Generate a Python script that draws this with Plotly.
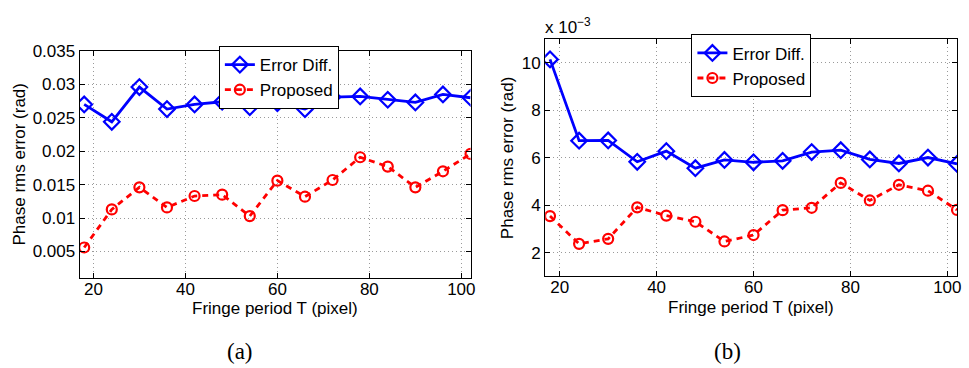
import plotly.graph_objects as go

W, H = 969, 368

period = [18, 24, 30, 36, 42, 48, 54, 60, 66, 72, 78, 84, 90, 96, 102]

# (a) values in rad
a_error_diff = [0.0270, 0.0244, 0.0296, 0.0263, 0.0270, 0.0274, 0.0266, 0.0272,
                0.0263, 0.0281, 0.0282, 0.0277, 0.0273, 0.0285, 0.0280]
a_proposed = [0.0056, 0.0113, 0.0146, 0.0116, 0.0133, 0.0135, 0.0103, 0.0156,
              0.0132, 0.0157, 0.0191, 0.0177, 0.0146, 0.0170, 0.0196]

# (b) values in units of 1e-3 rad
b_error_diff = [10.15, 6.72, 6.73, 5.83, 6.28, 5.56, 5.91, 5.81, 5.87, 6.24,
                6.32, 5.93, 5.76, 6.01, 5.74]
b_proposed = [3.54, 2.37, 2.58, 3.91, 3.56, 3.30, 2.47, 2.74, 3.79, 3.89,
              4.94, 4.20, 4.86, 4.61, 3.80]

x_ticks = [20, 40, 60, 80, 100]
a_y_ticks = [0.005, 0.01, 0.015, 0.02, 0.025, 0.03, 0.035]
a_y_ticklabels = ["0.005", "0.01", "0.015", "0.02", "0.025", "0.03", "0.035"]
b_y_ticks = [2, 4, 6, 8, 10]

FONT = "Liberation Sans"
SERIF = "Liberation Serif"
FS = 17
BLUE = "#0000ff"
RED = "#ff0000"

fig = go.Figure()

def add_pair(xa, ya, ed, pr, leg):
    fig.add_trace(go.Scatter(
        x=period, y=ed, name="Error Diff.", mode="lines+markers",
        line=dict(color=BLUE, width=2.8),
        marker=dict(symbol="diamond-open", size=12, color=BLUE, line=dict(width=2.2, color=BLUE)),
        xaxis=xa, yaxis=ya, legend=leg))
    fig.add_trace(go.Scatter(
        x=period, y=pr, name="Proposed", mode="lines+markers",
        line=dict(color=RED, width=2.8, dash="6px,5px"),
        marker=dict(symbol="circle-open", size=10, color=RED, line=dict(width=2.2, color=RED)),
        xaxis=xa, yaxis=ya, legend=leg))

add_pair("x", "y", a_error_diff, a_proposed, "legend")
add_pair("x2", "y2", b_error_diff, b_proposed, "legend2")

axis_common = dict(
    showline=True, linecolor="black", linewidth=1, mirror="ticks",
    ticks="inside", ticklen=5, tickwidth=1, tickcolor="black",
    showgrid=True, gridcolor="#9a9a9a", griddash="1px,3px", gridwidth=1,
    zeroline=False, tickfont=dict(family=FONT, size=FS, color="black"),
)

fig.update_layout(
    width=W, height=H,
    margin=dict(l=0, r=0, t=0, b=0),
    paper_bgcolor="white", plot_bgcolor="white",
    font=dict(family=FONT, size=FS, color="black"),
    xaxis=dict(domain=[80 / W, 473 / W], range=[17, 102], tickvals=x_ticks,
               anchor="y", ticklabelstandoff=-5, **axis_common),
    yaxis=dict(domain=[1 - 276 / H, 1 - 43 / H], range=[0.001, 0.035],
               tickvals=a_y_ticks, ticktext=a_y_ticklabels, anchor="x", **axis_common),
    xaxis2=dict(domain=[548 / W, 962 / W], range=[17, 102], tickvals=x_ticks,
                anchor="y2", ticklabelstandoff=-5, **axis_common),
    yaxis2=dict(domain=[1 - 274 / H, 1 - 31 / H], range=[1, 11],
                tickvals=b_y_ticks, anchor="x2", **axis_common),
    legend=dict(x=220 / W, y=1 - 38 / H, xanchor="left", yanchor="top",
                bgcolor="white", bordercolor="black", borderwidth=1,
                font=dict(family=FONT, size=FS), itemwidth=30,
                tracegroupgap=0),
    legend2=dict(x=695 / W, y=1 - 26 / H, xanchor="left", yanchor="top",
                 bgcolor="white", bordercolor="black", borderwidth=1,
                 font=dict(family=FONT, size=FS), itemwidth=30,
                 tracegroupgap=0),
    showlegend=True,
)

annotations = [
    dict(text="Fringe period T (pixel)", x=276.5 / W, y=1 - 307 / H, xref="paper", yref="paper",
         showarrow=False, font=dict(family=FONT, size=FS), xanchor="center", yanchor="middle"),
    dict(text="Fringe period T (pixel)", x=755 / W, y=1 - 306 / H, xref="paper", yref="paper",
         showarrow=False, font=dict(family=FONT, size=FS), xanchor="center", yanchor="middle"),
    dict(text="Phase rms error (rad)", x=20 / W, y=1 - 159.5 / H, xref="paper", yref="paper",
         showarrow=False, textangle=-90, font=dict(family=FONT, size=FS),
         xanchor="center", yanchor="middle"),
    dict(text="Phase rms error (rad)", x=510 / W, y=1 - 152.5 / H, xref="paper", yref="paper",
         showarrow=False, textangle=-90, font=dict(family=FONT, size=FS),
         xanchor="center", yanchor="middle"),
    dict(text="x 10<sup>−3</sup>", x=546 / W, y=1 - 17 / H, xref="paper", yref="paper",
         showarrow=False, font=dict(family=FONT, size=FS), xanchor="left", yanchor="middle"),
    dict(text="(a)", x=241 / W, y=1 - 351 / H, xref="paper", yref="paper",
         showarrow=False, font=dict(family=SERIF, size=23),
         xanchor="center", yanchor="middle"),
    dict(text="(b)", x=731 / W, y=1 - 351 / H, xref="paper", yref="paper",
         showarrow=False, font=dict(family=SERIF, size=23),
         xanchor="center", yanchor="middle"),
]
fig.update_layout(annotations=annotations)

fig.write_html("out.html")
